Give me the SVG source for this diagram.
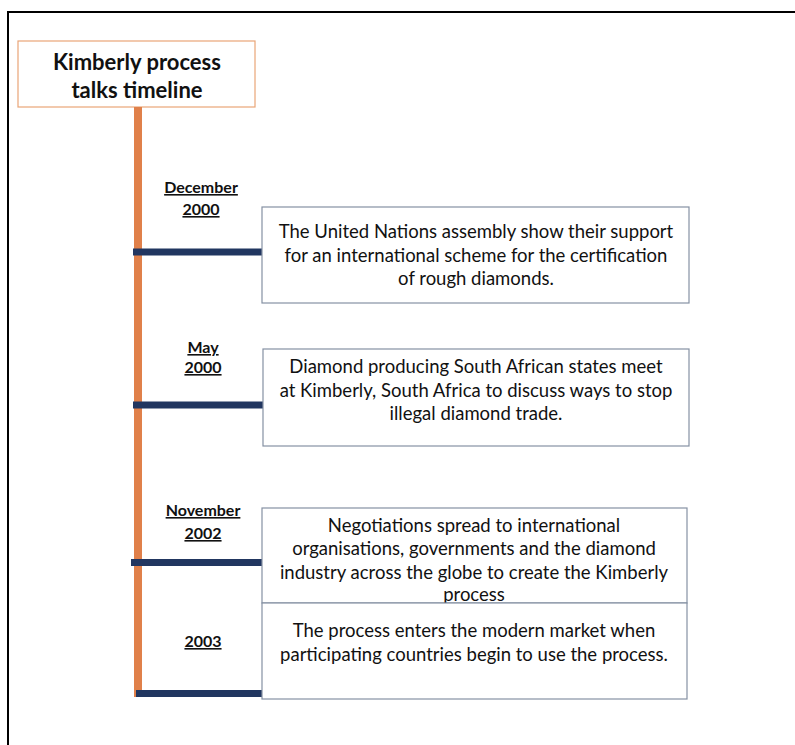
<svg xmlns="http://www.w3.org/2000/svg" width="795" height="745" viewBox="0 0 795 745">
<style>
.frame{fill:none;stroke:#000;stroke-width:2}
.title{fill:#fff;stroke:#e9a577;stroke-width:1.2}
.box{fill:#fff;stroke:#8591a3;stroke-width:1.2}
.spine{fill:#e0804a}
.tick{fill:#213660}
.t{font-family:Lato,"Open Sans","Liberation Sans",sans-serif;fill:#111;text-anchor:middle}
.tt{font-size:22px;font-weight:bold}
.d{font-size:16px;font-weight:bold;text-decoration:underline}
.b{font-size:18.5px}
</style>
<rect width="795" height="745" fill="#fff"/>
<path class="frame" d="M8 745 V12 H795"/>
<g id="title">
<rect class="title" x="18" y="41" width="237" height="66"/>
<text class="t tt" x="137" y="70">Kimberly process</text>
<text class="t tt" x="137" y="98">talks timeline</text>
</g>
<g id="connectors">
<rect class="spine" x="134" y="107" width="8" height="590"/>
<rect class="tick" x="133" y="248.5" width="129" height="7"/>
<rect class="tick" x="133" y="401.5" width="130" height="7"/>
<rect class="tick" x="131" y="559" width="131" height="7"/>
<rect class="tick" x="136" y="690" width="126" height="7"/>
</g>
<g id="dec2000">
<text class="t d" x="201" y="193">December</text>
<text class="t d" x="201" y="215">2000</text>
<rect class="box" x="262" y="207" width="427" height="96"/>
<text class="t b" x="476" y="238">The United Nations assembly show their support</text>
<text class="t b" x="476" y="262">for an international scheme for the certification</text>
<text class="t b" x="476" y="285">of rough diamonds.</text>
</g>
<g id="may2000">
<text class="t d" x="203" y="353">May</text>
<text class="t d" x="203" y="373">2000</text>
<rect class="box" x="263" y="349" width="426" height="97"/>
<text class="t b" x="476" y="373">Diamond producing South African states meet</text>
<text class="t b" x="476" y="397">at Kimberly, South Africa to discuss ways to stop</text>
<text class="t b" x="476" y="420">illegal diamond trade.</text>
</g>
<g id="nov2002">
<text class="t d" x="203" y="516">November</text>
<text class="t d" x="203" y="539">2002</text>
<rect class="box" x="262" y="508" width="425" height="95"/>
<text class="t b" x="474" y="532">Negotiations spread to international</text>
<text class="t b" x="474" y="555">organisations, governments and the diamond</text>
<text class="t b" x="474" y="579">industry across the globe to create the Kimberly</text>
<text class="t b" x="474" y="601">process</text>
</g>
<g id="y2003">
<text class="t d" x="203" y="647">2003</text>
<rect class="box" x="262" y="603" width="425" height="96"/>
<text class="t b" x="474" y="637">The process enters the modern market when</text>
<text class="t b" x="474" y="661">participating countries begin to use the process.</text>
</g>
</svg>
